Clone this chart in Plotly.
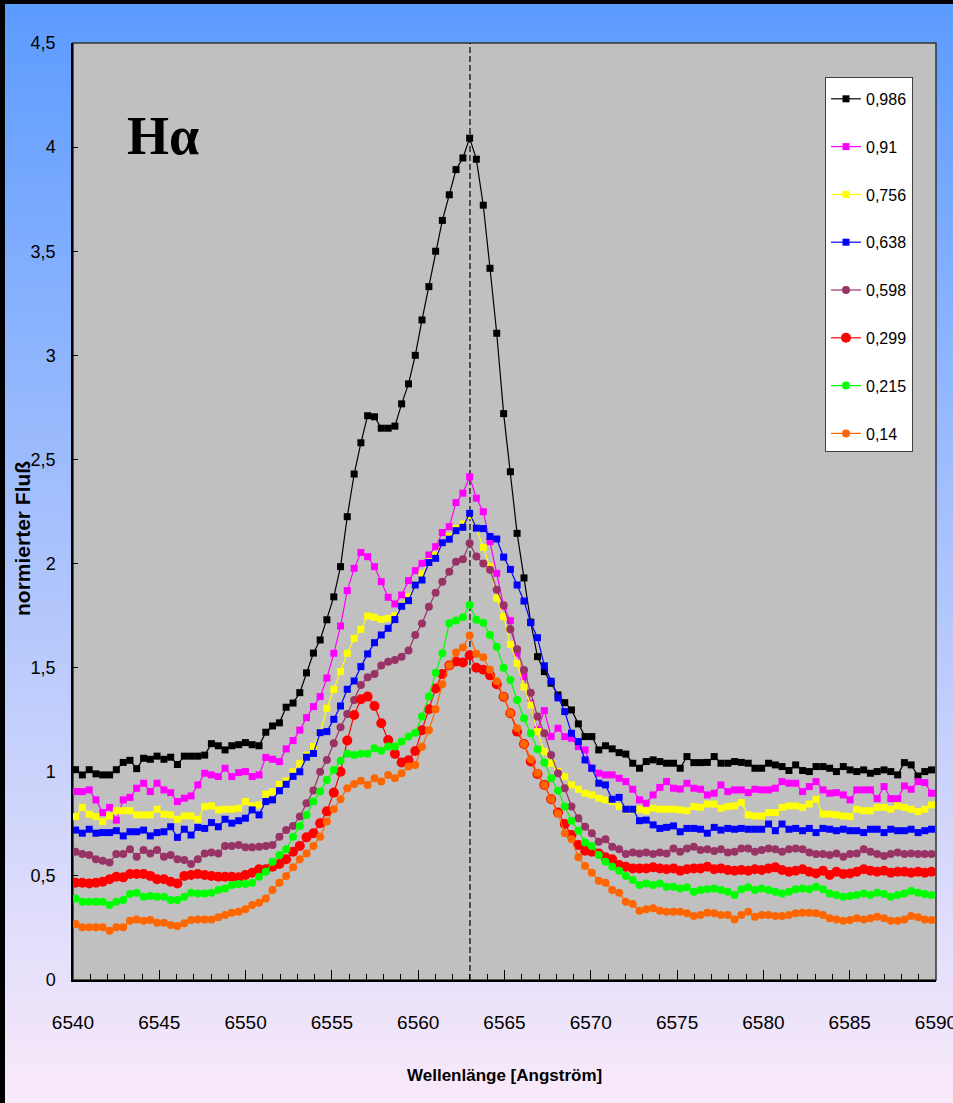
import base64
import struct
import zlib

import numpy as np
import plotly.graph_objects as go

# ---------------------------------------------------------------- data
# wavelength grid of the extracted spectra (Angstrom, uniform dispersion)
WL_START = 6540.15
WL_STEP = 0.3936
N_PIX = 127
wavelength = np.round(WL_START + WL_STEP * np.arange(N_PIX), 2)

H_ALPHA = 6563.0  # rest wavelength marked by the dashed line

phase_labels = ["0,986", "0,91", "0,756", "0,638", "0,598", "0,299", "0,215", "0,14"]

flux_0986 = [
    1.01, 0.985, 1.01, 0.99, 0.985, 0.985, 1.01, 1.045, 1.055, 1.015,
    1.065, 1.06, 1.075, 1.06, 1.07, 1.035, 1.075, 1.075, 1.075, 1.08,
    1.135, 1.125, 1.105, 1.125, 1.13, 1.14, 1.13, 1.125, 1.19, 1.22,
    1.235, 1.31, 1.33, 1.38, 1.475, 1.57, 1.633, 1.73, 1.84, 1.985,
    2.225, 2.43, 2.58, 2.71, 2.705, 2.65, 2.65, 2.66, 2.767, 2.863,
    3.00, 3.17, 3.33, 3.50, 3.648, 3.771, 3.892, 3.948, 4.043, 3.942,
    3.721, 3.418, 3.106, 2.720, 2.441, 2.145, 1.931, 1.719, 1.553, 1.481,
    1.425, 1.369, 1.332, 1.297, 1.23, 1.169, 1.169, 1.105, 1.125, 1.11,
    1.092, 1.085, 1.041, 1.017, 1.049, 1.057, 1.049, 1.041, 1.041, 1.017,
    1.073, 1.044, 1.044, 1.045, 1.073, 1.041, 1.041, 1.049, 1.045, 1.041,
    1.017, 1.017, 1.041, 1.033, 1.025, 1.006, 1.033, 1.006, 1.001, 1.025,
    1.025, 1.017, 1.001, 1.025, 1.009, 1.001, 1.009, 0.993, 1.001, 1.009,
    1.001, 0.985, 1.044, 1.033, 0.980, 1.001, 1.009,
]

flux_091 = [
    0.905, 0.905, 0.913, 0.865, 0.804, 0.829, 0.768, 0.865, 0.877, 0.921,
    0.945, 0.905, 0.945, 0.913, 0.9, 0.857, 0.873, 0.884, 0.937, 0.993,
    0.985, 0.977, 1.017, 0.977, 0.996, 1.001, 0.977, 0.985, 1.069, 1.06,
    1.049, 1.11, 1.15, 1.2, 1.26, 1.313, 1.361, 1.45, 1.569, 1.70,
    1.87, 1.977, 2.053, 2.033, 1.985, 1.913, 1.838, 1.806, 1.849, 1.918,
    1.966, 2.001, 2.041, 2.081, 2.149, 2.177, 2.293, 2.338, 2.417, 2.314,
    2.249, 2.105, 1.953, 1.795, 1.726, 1.57, 1.457, 1.329, 1.201, 1.294,
    1.169, 1.209, 1.169, 1.161, 1.121, 1.105, 1.017, 0.993, 0.985, 0.985,
    0.969, 0.953, 0.916, 0.865, 0.849, 0.889, 0.925, 0.953, 0.921, 0.917,
    0.945, 0.921, 0.916, 0.889, 0.897, 0.937, 0.905, 0.913, 0.913, 0.9,
    0.916, 0.913, 0.913, 0.921, 0.953, 0.945, 0.945, 0.905, 0.929, 0.953,
    0.913, 0.897, 0.9, 0.889, 0.865, 0.913, 0.913, 0.913, 0.871, 0.929,
    0.871, 0.871, 0.932, 0.916, 0.953, 0.948, 0.897,
]

flux_0756 = [
    0.785, 0.829, 0.796, 0.785, 0.761, 0.788, 0.813, 0.813, 0.813, 0.793,
    0.793, 0.793, 0.82, 0.796, 0.793, 0.772, 0.788, 0.788, 0.772, 0.833,
    0.836, 0.817, 0.82, 0.82, 0.825, 0.857, 0.836, 0.841, 0.893, 0.905,
    0.94, 0.956, 1.0, 1.04, 1.08, 1.121, 1.19, 1.305, 1.396, 1.481,
    1.569, 1.641, 1.684, 1.748, 1.742, 1.732, 1.737, 1.75, 1.80, 1.84,
    1.90, 1.95, 2.01, 2.04, 2.10, 2.13, 2.17, 2.19, 2.23, 2.17,
    2.078, 1.985, 1.833, 1.745, 1.612, 1.521, 1.407, 1.321, 1.193, 1.097,
    1.041, 1.001, 0.977, 0.937, 0.916, 0.897, 0.889, 0.873, 0.865, 0.857,
    0.833, 0.817, 0.817, 0.82, 0.813, 0.825, 0.82, 0.82, 0.82, 0.817,
    0.813, 0.833, 0.829, 0.845, 0.845, 0.825, 0.833, 0.836, 0.852, 0.793,
    0.788, 0.788, 0.804, 0.804, 0.829, 0.836, 0.836, 0.829, 0.845, 0.868,
    0.797, 0.797, 0.793, 0.788, 0.785, 0.82, 0.813, 0.813, 0.829, 0.829,
    0.82, 0.836, 0.829, 0.82, 0.809, 0.82, 0.841,
]

flux_0638 = [
    0.72, 0.705, 0.724, 0.705, 0.708, 0.708, 0.717, 0.692, 0.712, 0.712,
    0.72, 0.692, 0.708, 0.712, 0.736, 0.685, 0.724, 0.696, 0.733, 0.728,
    0.756, 0.736, 0.772, 0.753, 0.765, 0.777, 0.817, 0.793, 0.857, 0.865,
    0.909, 0.94, 0.978, 1.0, 1.07, 1.088, 1.188, 1.193, 1.252, 1.316,
    1.396, 1.436, 1.505, 1.566, 1.62, 1.657, 1.689, 1.731, 1.795, 1.822,
    1.897, 1.921, 2.005, 2.025, 2.10, 2.117, 2.158, 2.174, 2.241, 2.17,
    2.168, 2.13, 2.118, 2.031, 1.972, 1.897, 1.82, 1.716, 1.644, 1.509,
    1.435, 1.355, 1.289, 1.185, 1.145, 1.057, 1.017, 0.945, 0.937, 0.868,
    0.877, 0.82, 0.82, 0.765, 0.768, 0.745, 0.728, 0.733, 0.74, 0.712,
    0.728, 0.728, 0.724, 0.705, 0.733, 0.72, 0.728, 0.724, 0.728, 0.724,
    0.724, 0.724, 0.749, 0.717, 0.749, 0.724, 0.728, 0.717, 0.728, 0.708,
    0.728, 0.724, 0.717, 0.724, 0.717, 0.717, 0.708, 0.724, 0.724, 0.708,
    0.724, 0.717, 0.717, 0.724, 0.708, 0.717, 0.724,
]

flux_0598 = [
    0.616, 0.605, 0.6, 0.58, 0.573, 0.564, 0.605, 0.605, 0.628, 0.592,
    0.624, 0.608, 0.624, 0.592, 0.6, 0.58, 0.576, 0.557, 0.58, 0.608,
    0.612, 0.608, 0.644, 0.644, 0.648, 0.637, 0.637, 0.64, 0.644, 0.648,
    0.688, 0.72, 0.74, 0.785, 0.849, 0.91, 1.0, 1.057, 1.137, 1.214,
    1.278, 1.345, 1.417, 1.454, 1.47, 1.51, 1.529, 1.537, 1.553, 1.583,
    1.657, 1.712, 1.793, 1.86, 1.913, 1.961, 2.009, 2.021, 2.097, 2.034,
    2.0, 1.97, 1.874, 1.8, 1.685, 1.588, 1.489, 1.38, 1.265, 1.185,
    1.081, 0.993, 0.921, 0.833, 0.777, 0.736, 0.705, 0.664, 0.676, 0.64,
    0.628, 0.605, 0.612, 0.608, 0.612, 0.605, 0.612, 0.608, 0.632, 0.616,
    0.632, 0.64, 0.624, 0.628, 0.62, 0.628, 0.612, 0.616, 0.632, 0.632,
    0.616, 0.624, 0.632, 0.628, 0.616, 0.628, 0.632, 0.628, 0.612, 0.605,
    0.605, 0.6, 0.608, 0.592, 0.605, 0.608, 0.628, 0.616, 0.605, 0.596,
    0.605, 0.612, 0.605, 0.608, 0.605, 0.605, 0.605,
]

flux_0299 = [
    0.467, 0.467, 0.464, 0.467, 0.472, 0.484, 0.496, 0.493, 0.509, 0.509,
    0.509, 0.5, 0.484, 0.484, 0.472, 0.464, 0.5, 0.504, 0.509, 0.504,
    0.5, 0.496, 0.496, 0.496, 0.493, 0.504, 0.515, 0.532, 0.532, 0.544,
    0.557, 0.58, 0.616, 0.644, 0.685, 0.705, 0.753, 0.81, 0.90, 1.0,
    1.15, 1.273, 1.348, 1.361, 1.316, 1.233, 1.153, 1.086, 1.045, 1.055,
    1.10, 1.20, 1.30, 1.40, 1.47, 1.51, 1.53, 1.525, 1.56, 1.50,
    1.49, 1.463, 1.42, 1.36, 1.281, 1.193, 1.133, 1.049, 0.989, 0.937,
    0.868, 0.804, 0.749, 0.696, 0.648, 0.621, 0.616, 0.608, 0.589, 0.58,
    0.552, 0.544, 0.536, 0.536, 0.536, 0.541, 0.536, 0.532, 0.536, 0.525,
    0.532, 0.536, 0.536, 0.544, 0.532, 0.536, 0.528, 0.525, 0.528, 0.525,
    0.532, 0.528, 0.536, 0.541, 0.528, 0.52, 0.525, 0.532, 0.52, 0.512,
    0.525, 0.504, 0.52, 0.509, 0.512, 0.52, 0.532, 0.525, 0.52, 0.525,
    0.515, 0.52, 0.52, 0.515, 0.52, 0.515, 0.52,
]

flux_0215 = [
    0.392, 0.376, 0.376, 0.376, 0.376, 0.36, 0.376, 0.384, 0.413, 0.419,
    0.4, 0.403, 0.4, 0.4, 0.384, 0.384, 0.4, 0.419, 0.416, 0.416,
    0.419, 0.432, 0.44, 0.456, 0.461, 0.461, 0.467, 0.496, 0.52, 0.568,
    0.6, 0.628, 0.688, 0.74, 0.793, 0.857, 0.905, 0.961, 1.009, 1.053,
    1.086, 1.081, 1.086, 1.086, 1.113, 1.101, 1.121, 1.121, 1.145, 1.169,
    1.188, 1.265, 1.361, 1.476, 1.569, 1.713, 1.726, 1.742, 1.801, 1.73,
    1.716, 1.657, 1.601, 1.5, 1.441, 1.345, 1.257, 1.185, 1.108, 1.044,
    0.969, 0.909, 0.833, 0.765, 0.717, 0.66, 0.644, 0.6, 0.568, 0.544,
    0.525, 0.5, 0.48, 0.456, 0.464, 0.456, 0.464, 0.448, 0.448, 0.44,
    0.445, 0.424, 0.432, 0.436, 0.44, 0.432, 0.424, 0.408, 0.436, 0.445,
    0.432, 0.44, 0.432, 0.424, 0.416, 0.424, 0.436, 0.44, 0.436, 0.448,
    0.436, 0.416, 0.408, 0.4, 0.403, 0.408, 0.416, 0.408, 0.419, 0.413,
    0.4, 0.408, 0.416, 0.428, 0.419, 0.413, 0.408,
]

flux_014 = [
    0.269, 0.253, 0.253, 0.253, 0.253, 0.237, 0.253, 0.253, 0.285, 0.291,
    0.285, 0.288, 0.275, 0.275, 0.264, 0.259, 0.272, 0.288, 0.291, 0.291,
    0.291, 0.301, 0.312, 0.323, 0.328, 0.34, 0.36, 0.371, 0.392, 0.432,
    0.467, 0.5, 0.541, 0.58, 0.608, 0.644, 0.688, 0.761, 0.82, 0.868,
    0.921, 0.941, 0.957, 0.937, 0.969, 0.953, 0.985, 0.969, 0.993, 1.025,
    1.033, 1.12, 1.20, 1.30, 1.42, 1.51, 1.573, 1.597, 1.655, 1.567,
    1.55, 1.49, 1.435, 1.361, 1.281, 1.209, 1.133, 1.06, 0.993, 0.937,
    0.868, 0.8, 0.705, 0.676, 0.589, 0.548, 0.515, 0.477, 0.467, 0.432,
    0.419, 0.376, 0.365, 0.333, 0.34, 0.344, 0.333, 0.328, 0.328, 0.328,
    0.32, 0.307, 0.312, 0.323, 0.32, 0.312, 0.312, 0.291, 0.312, 0.328,
    0.304, 0.312, 0.312, 0.307, 0.307, 0.312, 0.32, 0.323, 0.323, 0.32,
    0.312, 0.296, 0.291, 0.285, 0.288, 0.296, 0.291, 0.296, 0.304, 0.296,
    0.285, 0.285, 0.291, 0.307, 0.301, 0.291, 0.288,
]

series_flux = [flux_0986, flux_091, flux_0756, flux_0638,
               flux_0598, flux_0299, flux_0215, flux_014]

y_ticks = [0, 0.5, 1, 1.5, 2, 2.5, 3, 3.5, 4, 4.5]
x_ticks = [6540, 6545, 6550, 6555, 6560, 6565, 6570, 6575, 6580, 6585, 6590]

# ---------------------------------------------------------------- style
series_colors = ["#000000", "#FF00FF", "#FFFF00", "#0000FF",
                 "#993366", "#FF0000", "#00FF00", "#FF6600"]
series_symbols = ["square", "square", "square", "square",
                  "circle", "circle", "circle", "circle"]
series_sizes = [7, 7, 7, 7, 8, 10, 8, 8]

FIG_W, FIG_H = 953, 1103
M_L, M_R, M_T, M_B = 73, 17, 43, 123
PLOT_W = FIG_W - M_L - M_R
PLOT_H = FIG_H - M_T - M_B

SANS = "Liberation Sans, Arial, DejaVu Sans"


def background_png(w, h, top_rgb, bottom_rgb, edge_left=5, edge_top=4):
    """Vertical colour ramp with a dark frame on the left and top edges."""
    rows = []
    for j in range(h):
        t = j / (h - 1)
        col = bytes(int(round(a + (b - a) * t)) for a, b in zip(top_rgb, bottom_rgb))
        if j < edge_top:
            row = b"\x00" * (3 * w)
        else:
            row = b"\x00" * (3 * edge_left) + col * (w - edge_left)
        rows.append(b"\x00" + row)
    raw = b"".join(rows)

    def chunk(tag, data):
        crc = zlib.crc32(tag + data) & 0xFFFFFFFF
        return struct.pack(">I", len(data)) + tag + data + struct.pack(">I", crc)

    png = (b"\x89PNG\r\n\x1a\n"
           + chunk(b"IHDR", struct.pack(">IIBBBBB", w, h, 8, 2, 0, 0, 0))
           + chunk(b"IDAT", zlib.compress(raw, 9))
           + chunk(b"IEND", b""))
    return "data:image/png;base64," + base64.b64encode(png).decode()


fig = go.Figure()

for label, flux, color, sym, size in zip(phase_labels, series_flux, series_colors,
                                         series_symbols, series_sizes):
    fig.add_trace(go.Scatter(
        x=wavelength, y=flux, name=label, legendgroup=label,
        mode="lines+markers",
        line=dict(color=color, width=1.2),
        marker=dict(color=color, size=size, symbol=sym, line=dict(width=0)),
    ))

fig.add_layout_image(dict(
    source=background_png(FIG_W, FIG_H, (91, 155, 255), (250, 234, 250)),
    xref="paper", yref="paper",
    x=-M_L / PLOT_W, y=1 + M_T / PLOT_H,
    sizex=FIG_W / PLOT_W, sizey=FIG_H / PLOT_H,
    xanchor="left", yanchor="top", sizing="stretch", layer="below",
))

# grey plotting area with its frame
fig.add_shape(type="rect", xref="paper", yref="paper", x0=0, x1=1, y0=0, y1=1,
              fillcolor="#C0C0C0", line=dict(color="#333333", width=1.5), layer="below")
# H-alpha rest wavelength
fig.add_shape(type="line", xref="x", yref="paper", x0=H_ALPHA, x1=H_ALPHA, y0=0, y1=1,
              line=dict(color="black", width=1.2, dash="6px,3px"), layer="below")

fig.add_annotation(text="<b>Hα</b>", xref="paper", yref="paper",
                   x=(163 - M_L) / PLOT_W, y=(FIG_H - M_B - 136) / PLOT_H,
                   xanchor="center", yanchor="middle", showarrow=False,
                   font=dict(family="Liberation Serif, DejaVu Serif, serif", size=54, color="black"))
fig.add_annotation(text="<b>normierter Fluß</b>", xref="paper", yref="paper",
                   x=(22 - M_L) / PLOT_W, y=(FIG_H - M_B - 539) / PLOT_H,
                   xanchor="center", yanchor="middle", textangle=-90, showarrow=False,
                   font=dict(family=SANS, size=21, color="black"))
fig.add_annotation(text="<b>Wellenlänge [Angström]</b>", xref="paper", yref="paper",
                   x=0.5, y=(FIG_H - M_B - 1075) / PLOT_H,
                   xanchor="center", yanchor="middle", showarrow=False,
                   font=dict(family=SANS, size=17, color="black"))

fig.update_xaxes(
    range=[6540, 6590], tickvals=x_ticks, ticktext=[str(v) for v in x_ticks],
    ticks="inside", ticklen=10, tickwidth=1, tickcolor="black",
    minor=dict(dtick=1, tick0=6540, ticks="inside", ticklen=6, tickcolor="black", showgrid=False),
    showline=True, linecolor="black", linewidth=1.5, showgrid=False, zeroline=False,
    tickfont=dict(family=SANS, size=19, color="black"), ticklabelstandoff=24,
    ticklabeloverflow="allow", automargin=False,
)
fig.update_yaxes(
    range=[0, 4.5], tickvals=y_ticks, ticktext=[str(v).replace(".", ",") for v in y_ticks],
    ticks="inside", ticklen=5, tickwidth=1, tickcolor="black",
    showline=True, linecolor="black", linewidth=1.5, showgrid=False, zeroline=False,
    tickfont=dict(family=SANS, size=18, color="black"), ticklabelstandoff=12,
    ticklabeloverflow="allow", automargin=False,
)

fig.update_layout(
    width=FIG_W, height=FIG_H, autosize=False,
    margin=dict(l=M_L, r=M_R, t=M_T, b=M_B, pad=0),
    paper_bgcolor="#A8C4F8", plot_bgcolor="#C0C0C0",
    showlegend=True,
    legend=dict(
        x=(825 - M_L) / PLOT_W, y=(FIG_H - M_B - 77) / PLOT_H,
        xanchor="left", yanchor="top",
        bgcolor="white", bordercolor="#404040", borderwidth=1,
        font=dict(family=SANS, size=16, color="black"),
        title=dict(text=" ", font=dict(size=3)),
        tracegroupgap=24, itemwidth=30,
    ),
)

fig.write_html("out.html")
